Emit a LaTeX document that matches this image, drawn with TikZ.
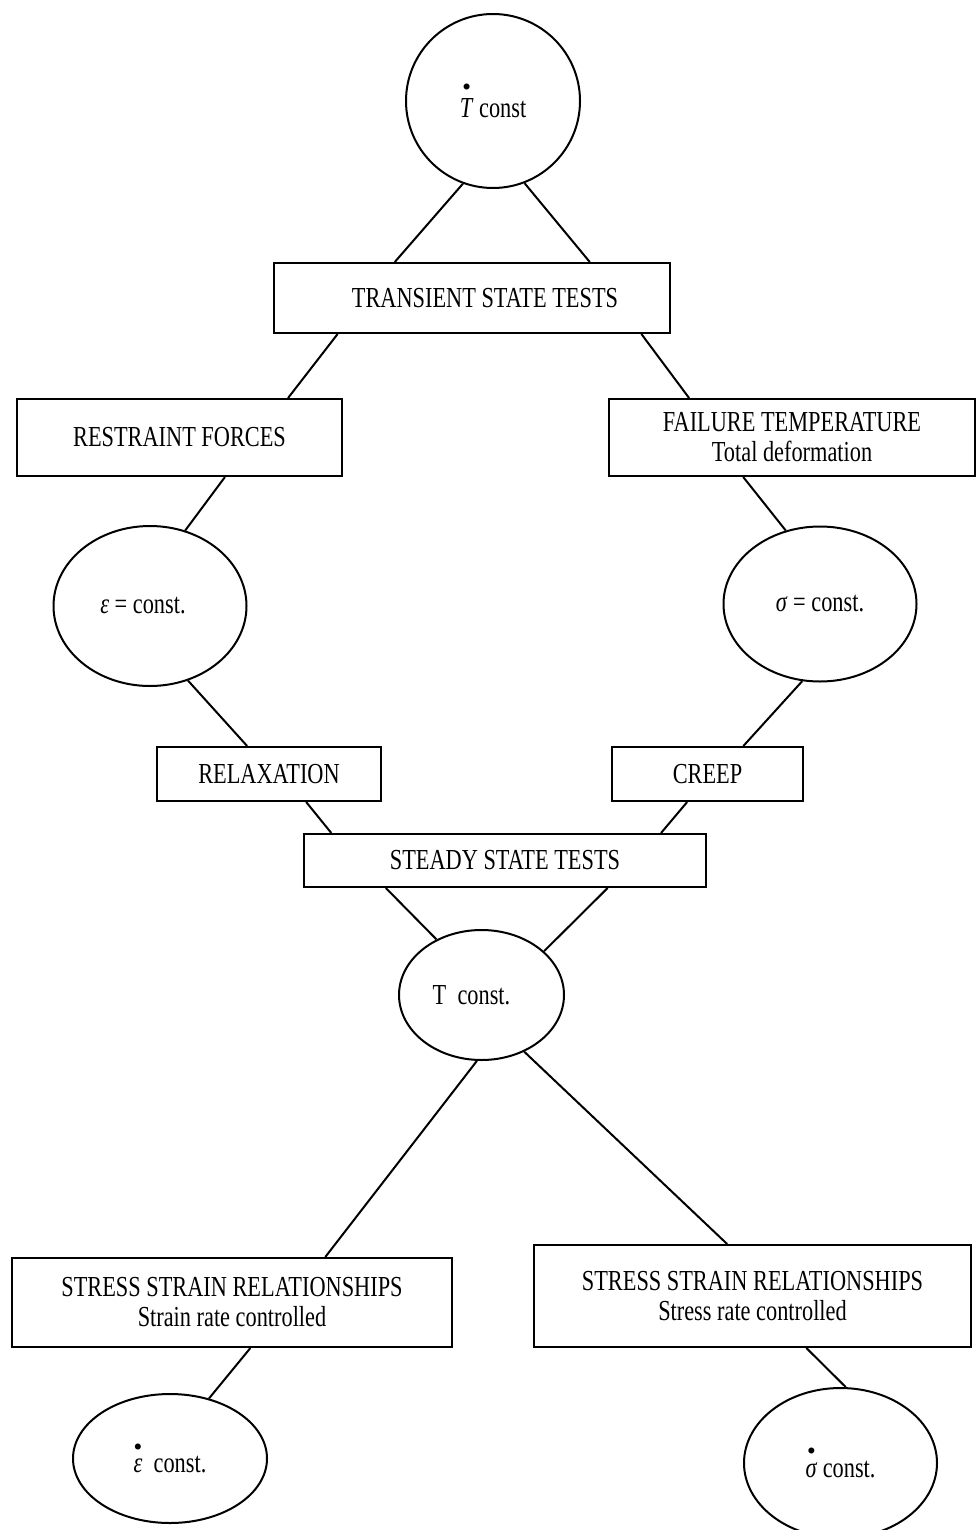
\documentclass[tikz,border=0pt]{standalone}
\usepackage{fontspec}
\setmainfont{Liberation Serif}[FakeStretch=0.77]
\usetikzlibrary{shapes.geometric}
\newcommand{\dotsym}[1]{\shortstack[c]{{\scriptsize$\bullet$}\\[1pt]\textit{#1}}}

\begin{document}
\begin{tikzpicture}[
  x=0.5pt, y=-0.5pt,
  every node/.style={font=\fontsize{14.5}{15}\selectfont},
  box/.style={draw, line width=1pt, align=center, inner sep=0pt},
  oval/.style={draw, ellipse, line width=1pt, inner sep=0pt},
  link/.style={line width=1pt}
]
\useasboundingbox (0,0) rectangle (976,1530);

% transient branch
\node[draw, circle, line width=1pt, minimum size=87pt] (tdot) at (493,101) {\dotsym{T} const};
\node[box, minimum width=198pt, minimum height=35pt] (transient) at (472,298) {\hspace*{13pt}TRANSIENT STATE TESTS};
\node[box, minimum width=162.5pt, minimum height=38.5pt] (restraint) at (179.5,437.5) {RESTRAINT FORCES};
\node[box, minimum width=183pt, minimum height=38.5pt] (failure) at (792,437.5) {FAILURE TEMPERATURE\\Total deformation};
\node[oval, minimum width=96.5pt, minimum height=80pt] (epsc) at (150,606) {\textit{ε} = const.\hspace*{7pt}};
\node[oval, minimum width=96.5pt, minimum height=77.5pt] (sigc) at (820,604) {\textit{σ} = const.};

% steady branch
\node[box, minimum width=112pt, minimum height=27pt] (relax) at (269,774) {RELAXATION};
\node[box, minimum width=95.5pt, minimum height=27pt] (creep) at (707.5,774) {CREEP};
\node[box, minimum width=201pt, minimum height=26.5pt] (steady) at (505,860.5) {STEADY STATE TESTS};
\node[oval, minimum width=82.5pt, minimum height=65pt] (tconst) at (481.5,995) {T\ \ const.\hspace*{10pt}};
\node[box, minimum width=220pt, minimum height=44.5pt] (ssrstrain) at (232,1302.5) {STRESS STRAIN RELATIONSHIPS\\Strain rate controlled};
\node[box, minimum width=218.5pt, minimum height=51pt] (ssrstress) at (752.5,1296) {STRESS STRAIN RELATIONSHIPS\\Stress rate controlled};
\node[oval, minimum width=97pt, minimum height=64.5pt] (epsdot) at (170,1458.5) {\dotsym{ε}\ \ const.};
\node[oval, minimum width=96.5pt, minimum height=75pt] (sigdot) at (840.5,1463) {\dotsym{σ} const.};

\draw[link] (tdot.250) -- (transient.155);
\draw[link] (tdot.291) -- (transient.17);
\draw[link] (transient.195) -- (restraint.20);
\draw[link] (transient.348) -- (failure.159);
\draw[link] (restraint.319) -- (epsc.65);
\draw[link] (failure.219) -- (sigc.115);
\draw[link] (epsc.297) -- (relax.128);
\draw[link] (sigc.257) -- (creep.38);
\draw[link] (relax.323) -- (steady.171);
\draw[link] (creep.234) -- (steady.10);
\draw[link] (steady.193) -- (tconst.129);
\draw[link] (steady.345) -- (tconst.35);
\draw[link] (tconst.266) -- (ssrstrain.26);
\draw[link] (tconst.307) -- (ssrstress.116);
\draw[link] (ssrstrain.292) -- (epsdot.57);
\draw[link] (ssrstress.316) -- (sigdot.86);
\end{tikzpicture}
\end{document}
